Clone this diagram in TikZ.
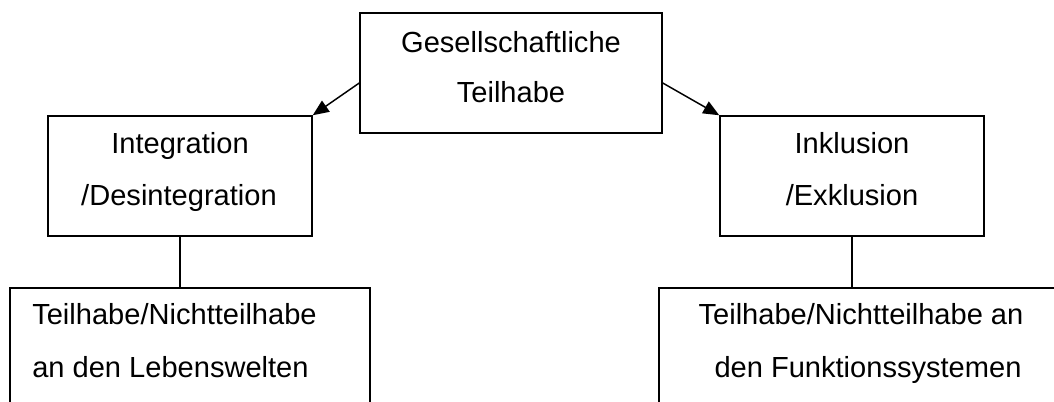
\documentclass[tikz,border=0pt]{standalone}
\usepackage{fontspec}
\setmainfont{Liberation Sans}
\usetikzlibrary{arrows.meta}
\begin{document}
\begin{tikzpicture}[x=0.75pt,y=-0.75pt,
  boxstyle/.style={draw,line width=1.1pt,inner sep=0pt},
  txt/.style={anchor=base,inner sep=0pt,font=\fontsize{21.8pt}{26pt}\selectfont},
  arr/.style={line width=1.1pt,-{Triangle[length=12pt,width=10pt]}},
  lnk/.style={line width=1.1pt}]
\useasboundingbox (0,0) rectangle (1054,401);
\clip (0,0) rectangle (1054,401);
% boxes
\node[boxstyle,minimum width=302*0.75pt,minimum height=120*0.75pt] (top) at (511,73) {};
\node[boxstyle,minimum width=264*0.75pt,minimum height=120*0.75pt] (lmid) at (180,176) {};
\node[boxstyle,minimum width=264*0.75pt,minimum height=120*0.75pt] (rmid) at (852,176) {};
\node[boxstyle,minimum width=360*0.75pt,minimum height=160*0.75pt] (lbot) at (190,368) {};
\node[boxstyle,minimum width=410*0.75pt,minimum height=160*0.75pt] (rbot) at (864,368) {};
% texts
\node[txt] (t1) at (511,52) {Gesellschaftliche};
\node[txt] (t2) at (511,102) {Teilhabe};
\node[txt] (l1) at (180,153) {Integration};
\node[txt] (l2) at (179,205) {/Desintegration};
\node[txt] (r1) at (852,153) {Inklusion};
\node[txt] (r2) at (852,205) {/Exklusion};
\node[txt,anchor=base west] (lb1) at (32,324) {Teilhabe/Nichtteilhabe};
\node[txt,anchor=base west] (lb2) at (32,377) {an den Lebenswelten};
\node[txt] (rb1) at (861,324) {Teilhabe/Nichtteilhabe an};
\node[txt] (rb2) at (868,377) {den Funktionssystemen};
% connectors
\draw[arr] ([yshift=-7.5pt]top.west) -- (lmid.north east);
\draw[arr] ([yshift=-7.5pt]top.east) -- (rmid.north west);
\draw[lnk] (lmid.south) -- (lmid.south |- lbot.north);
\draw[lnk] (rmid.south) -- (rmid.south |- rbot.north);
\end{tikzpicture}
\end{document}
